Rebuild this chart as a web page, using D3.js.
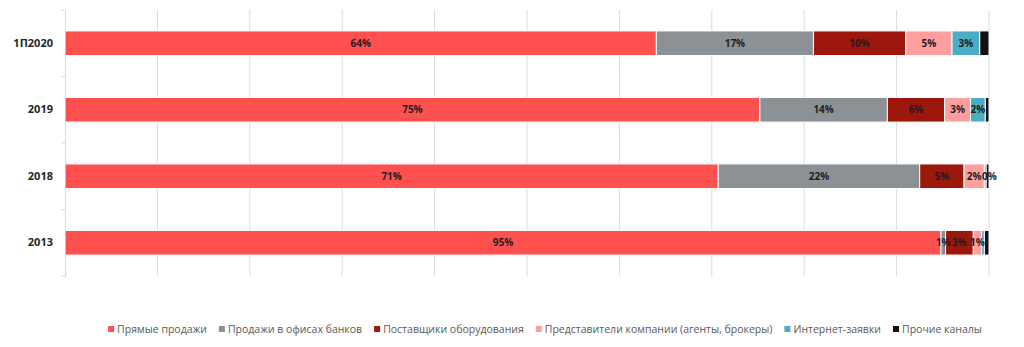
<!DOCTYPE html>
<html>
<head>
<meta charset="utf-8">
<script src="https://cdn.jsdelivr.net/npm/d3@7"></script>
<style>
  html, body { margin: 0; padding: 0; background: #fff; }
  svg { display: block; }
  text { font-family: "Open Sans", "Noto Sans", sans-serif; }
</style>
</head>
<body>
<svg id="chart" width="1024" height="347"></svg>
<script>
// Sales channels share by period (percent)
const periods = ["1П2020", "2019", "2018", "2013"];
const channels = [
  "Прямые продажи",
  "Продажи в офисах банков",
  "Поставщики оборудования",
  "Представители компании (агенты, брокеры)",
  "Интернет-заявки",
  "Прочие каналы"
];
const colors = ["#FF5050", "#8C9195", "#9C170C", "#FF9E9E", "#4BACC6", "#111111"];

const directSales = [64, 75.2, 70.7, 94.8];
const bankOffices = [17, 13.8, 21.8, 0.5];
const equipmentSuppliers = [10, 6.2, 4.8, 3.0];
const agentsBrokers = [5, 2.8, 2.2, 0.9];
const internetRequests = [3, 1.6, 0.2, 0.3];
const otherChannels = [1, 0.4, 0.3, 0.5];

// which series carry data labels, per period
const showLabels = [
  [true, true, true, true],
  [true, true, true, true],
  [true, true, true, true],
  [true, true, true, true],
  [true, true, true, false],
  [false, false, false, false]
];

const seriesValues = [directSales, bankOffices, equipmentSuppliers, agentsBrokers, internetRequests, otherChannels];
const xTicks = [0, 10, 20, 30, 40, 50, 60, 70, 80, 90, 100];

const rows = periods.map((p, i) => {
  const r = { period: p };
  channels.forEach((c, j) => { r[c] = seriesValues[j][i]; });
  return r;
});

const svg = d3.select("#chart");
const margin = { left: 65, right: 35, top: 10, bottom: 71 };
const W = 1024, H = 347;

const x = d3.scaleLinear().domain([0, 100]).range([margin.left, W - margin.right]);
const y = d3.scaleBand().domain(periods).range([margin.top, H - margin.bottom]).paddingInner(0.63).paddingOuter(0.315);

// vertical gridlines
svg.append("g")
  .selectAll("line")
  .data(xTicks.slice(1))
  .join("line")
  .attr("x1", d => x(d)).attr("x2", d => x(d))
  .attr("y1", margin.top).attr("y2", H - margin.bottom)
  .attr("stroke", "#d9d9d9").attr("stroke-width", 1);

// category axis
const yAxis = svg.append("g")
  .attr("transform", `translate(${margin.left},0)`)
  .call(d3.axisLeft(y).tickSize(0).tickPadding(12));
yAxis.select(".domain").attr("stroke", "#d9d9d9");
yAxis.selectAll("text")
  .attr("font-size", 11).attr("font-weight", "bold").attr("fill", "#262626");

// tick marks between categories
const step = y.step();
const bounds = d3.range(periods.length + 1).map(i => margin.top + i * step);
svg.append("g")
  .selectAll("line")
  .data(bounds)
  .join("line")
  .attr("x1", margin.left - 4).attr("x2", margin.left)
  .attr("y1", d => d).attr("y2", d => d)
  .attr("stroke", "#d9d9d9");

const stack = d3.stack().keys(channels);
const stacked = stack(rows);

const layers = svg.append("g")
  .selectAll("g")
  .data(stacked)
  .join("g")
  .attr("fill", (d, i) => colors[i]);

layers.selectAll("rect")
  .data(d => d)
  .join("rect")
  .attr("x", d => x(d[0]))
  .attr("width", d => Math.max(0, x(d[1]) - x(d[0])))
  .attr("y", d => y(d.data.period))
  .attr("height", y.bandwidth())
  .attr("stroke", "#fff")
  .attr("stroke-width", 1);

// data labels, centred in their segment; crowded ones are pushed right
const fmt = v => Math.round(v) + "%";
const labelG = svg.append("g");
periods.forEach((p, pi) => {
  let prevRight = -Infinity;
  stacked.forEach((layer, si) => {
    if (!showLabels[si][pi]) return;
    const d = layer[pi];
    const t = labelG.append("text")
      .attr("x", (x(d[0]) + x(d[1])) / 2)
      .attr("y", y(p) + y.bandwidth() / 2)
      .attr("dy", "0.35em")
      .attr("text-anchor", "middle")
      .attr("font-size", 10)
      .attr("font-weight", "bold")
      .attr("fill", "#1e1e1e")
      .text(fmt(seriesValues[si][pi]));
    const w = t.node().getComputedTextLength();
    let cxl = (x(d[0]) + x(d[1])) / 2;
    if (cxl - w / 2 < prevRight + 0.5) {
      cxl = prevRight + 0.5 + w / 2;
      t.attr("x", cxl);
    }
    prevRight = cxl + w / 2;
  });
});

// legend
const legend = svg.append("g").attr("transform", `translate(0, 329)`);
const items = legend.selectAll("g").data(channels).join("g");
items.append("rect")
  .attr("width", 6).attr("height", 6).attr("y", -3)
  .attr("fill", (d, i) => colors[i]);
items.append("text")
  .attr("x", 9).attr("dy", "0.35em")
  .attr("font-size", 10.5).attr("fill", "#595959")
  .text(d => d);
let widths = [];
items.each(function () {
  widths.push(9 + this.querySelector("text").getComputedTextLength());
});
const gap = 12;
const total = d3.sum(widths) + gap * (widths.length - 1);
let cx = 545 - total / 2;
items.each(function (d, i) {
  d3.select(this).attr("transform", `translate(${cx},0)`);
  cx += widths[i] + gap;
});
</script>
</body>
</html>
